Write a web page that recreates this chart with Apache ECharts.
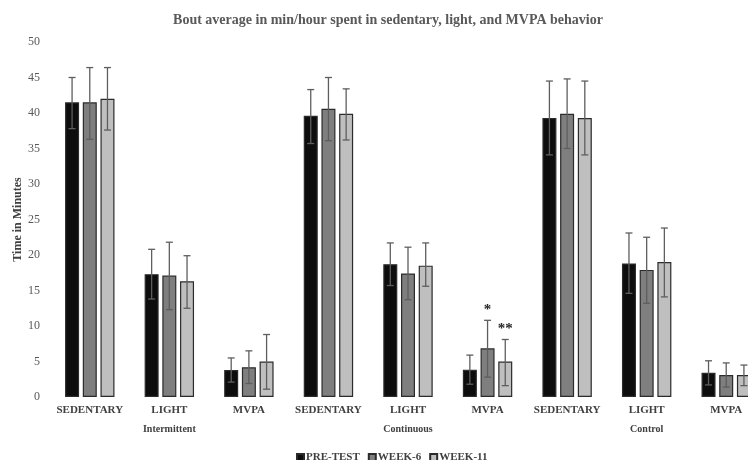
<!DOCTYPE html>
<html>
<head>
<meta charset="utf-8">
<script src="https://cdn.jsdelivr.net/npm/echarts@6/dist/echarts.min.js"></script>
<style>html,body{margin:0;padding:0;background:#fff}#c{width:748px;height:460px}</style>
</head>
<body>
<div id="c"></div>
<script>
var categories = ['SEDENTARY','LIGHT','MVPA','SEDENTARY','LIGHT','MVPA','SEDENTARY','LIGHT','MVPA'];
var groups = ['Intermittent','Continuous','Control'];
var seriesNames = ['PRE-TEST','WEEK-6','WEEK-11'];
var yTicks = [0,5,10,15,20,25,30,35,40,45,50];

var preTest = [41.5, 17.3, 3.8, 39.6, 18.7, 3.85, 39.3, 18.8, 3.4];
var preLow  = [37.8, 13.8, 2.1, 35.7, 15.7, 1.8, 34.1, 14.6, 1.7];
var preHigh = [45.0, 20.8, 5.5, 43.3, 21.7, 5.9, 44.5, 23.1, 5.1];

var week6   = [41.5, 17.1, 4.2, 40.6, 17.4, 6.85, 39.9, 17.9, 3.1];
var w6Low   = [36.3, 12.3, 1.9, 36.1, 13.7, 2.8, 35.0, 13.2, 1.4];
var w6High  = [46.4, 21.8, 6.5, 45.0, 21.1, 10.8, 44.8, 22.5, 4.8];

var week11  = [42.0, 16.3, 5.0, 39.9, 18.5, 5.0, 39.3, 19.0, 3.1];
var w11Low  = [37.6, 12.5, 1.1, 36.2, 15.6, 1.6, 34.1, 14.1, 1.6];
var w11High = [46.4, 19.9, 8.8, 43.4, 21.7, 8.1, 44.5, 23.8, 4.5];

var annotPre = ['','','','','','','','',''];
var annotW6  = ['','','','','','*','','',''];
var annotW11 = ['','','','','','**','','',''];

var values = [preTest, week6, week11];
var lows = [preLow, w6Low, w11Low];
var highs = [preHigh, w6High, w11High];
var annots = [annotPre, annotW6, annotW11];
var colors = ['#0d0d0d', '#7f7f7f', '#bfbfbf'];

var BAR_W = 14, BAR_GAP = 3.7;
var serif = '"Liberation Serif", "DejaVu Serif", serif';

var chart = echarts.init(document.getElementById('c'), null, {renderer: 'canvas'});

function errSeries(k) {
  var data = categories.map(function (c, i) { return [i, lows[k][i], highs[k][i], annots[k][i]]; });
  return {
    type: 'custom',
    name: seriesNames[k] + '-err',
    z: 10,
    clip: false,
    data: data,
    renderItem: function (params, api) {
      var i = api.value(0);
      var lo = api.coord([i, api.value(1)]);
      var hi = api.coord([i, api.value(2)]);
      var off = (k - 1) * (BAR_W + BAR_GAP);
      var x = lo[0] + off;
      var cap = 3.5;
      var st = {stroke: '#5e5e5e', lineWidth: 1.3};
      var children = [
        {type: 'line', shape: {x1: x, y1: lo[1], x2: x, y2: hi[1]}, style: st},
        {type: 'line', shape: {x1: x - cap, y1: hi[1], x2: x + cap, y2: hi[1]}, style: st},
        {type: 'line', shape: {x1: x - cap, y1: lo[1], x2: x + cap, y2: lo[1]}, style: st}
      ];
      var a = data[params.dataIndex][3];
      if (a) {
        children.push({type: 'text', x: x, y: hi[1] - 3, style: {text: a, textAlign: 'center', textVerticalAlign: 'bottom', font: 'bold 15px ' + serif, fill: '#262626'}});
      }
      return {type: 'group', children: children};
    }
  };
}

var series = [];
for (var k = 0; k < 3; k++) {
  series.push({
    type: 'bar',
    name: seriesNames[k],
    data: values[k],
    barWidth: BAR_W,
    barGap: (BAR_GAP / BAR_W * 100) + '%',
    itemStyle: {color: colors[k], borderColor: '#2b2b2b', borderWidth: 1.2},
    emphasis: {disabled: true}
  });
}
for (var k2 = 0; k2 < 3; k2++) series.push(errSeries(k2));

chart.setOption({
  animation: false,
  backgroundColor: '#ffffff',
  title: {
    text: 'Bout average in min/hour spent in sedentary, light, and MVPA behavior',
    left: 383, top: 8, textAlign: 'center',
    textStyle: {fontFamily: serif, fontWeight: 'bold', fontSize: 14, color: '#595959'}
  },
  legend: {
    data: seriesNames,
    top: 447, left: 291,
    icon: 'rect', itemWidth: 7, itemHeight: 7, itemGap: 8,
    textStyle: {fontFamily: serif, fontWeight: 'bold', fontSize: 11, color: '#404040', padding: [0, 0, 0, -3]}
  },
  grid: {left: 50, top: 42, width: 716, height: 355, containLabel: false, outerBoundsMode: 'none'},
  xAxis: {
    type: 'category',
    data: categories,
    axisLine: {show: false},
    axisTick: {show: false},
    axisLabel: {
      margin: 7,
      interval: 0,
      formatter: function (v, i) {
        if (i % 3 === 1) return '{c|' + v + '}\n{g|' + groups[Math.floor(i / 3)] + '}';
        return '{c|' + v + '}';
      },
      rich: {
        c: {fontFamily: serif, fontWeight: 'bold', fontSize: 11, color: '#404040', lineHeight: 13},
        g: {fontFamily: serif, fontWeight: 'bold', fontSize: 10, color: '#404040', lineHeight: 25}
      }
    }
  },
  yAxis: {
    type: 'value',
    min: yTicks[0], max: yTicks[yTicks.length - 1], interval: yTicks[1] - yTicks[0],
    name: 'Time in Minutes',
    nameLocation: 'middle',
    nameGap: 26,
    nameMoveOverlap: false,
    nameTextStyle: {fontFamily: serif, fontWeight: 'bold', fontSize: 12, color: '#404040'},
    axisLine: {show: false},
    axisTick: {show: false},
    splitLine: {show: false},
    axisLabel: {margin: 10, fontFamily: serif, fontSize: 12, color: '#595959'}
  },
  series: series
});
</script>
</body>
</html>
